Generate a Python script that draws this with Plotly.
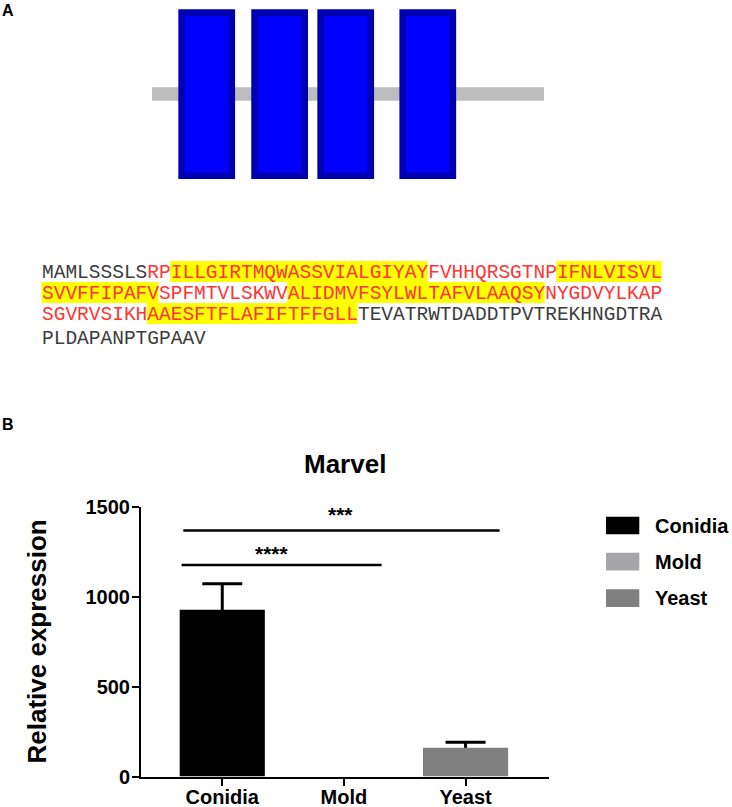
import plotly.graph_objects as go

# ---------------- data ----------------
# Panel A: protein sequence (53 residues per printed line)
seq_lines = [
    "MAMLSSSLSRPILLGIRTMQWASSVIALGIYAYFVHHQRSGTNPIFNLVISVL",
    "SVVFFIPAFVSPFMTVLSKWVALIDMVFSYLWLTAFVLAAQSYNYGDVYLKAP",
    "SGVRVSIKHAAESFTFLAFIFTFFGLLTEVATRWTDADDTPVTREKHNGDTRA",
    "PLDAPANPTGPAAV",
]
# highlighted (transmembrane) stretches in the sequence, 1-based residues
hl_start = [12, 45, 75, 116]
hl_end = [33, 63, 96, 133]
# residues printed in red (MARVEL domain)
red_start, red_end = 10, 133
# domain diagram: TM boxes (residue units)
tm_start = [14, 46, 75, 111]
tm_end = [36, 68, 97, 133]

# Panel B: bar chart
categories = ["Conidia", "Mold", "Yeast"]
means = [926, 0, 160]
err_plus = [145, None, 30]
bar_colors = ["#000000", "#a6a6a9", "#808080"]
y_ticks = [0, 500, 1000, 1500]
sig_x0 = [-0.32, -0.334]
sig_x1 = [2.28, 1.31]
sig_y = [1366, 1175]
sig_text = ["***", "****"]
sig_text_x = [0.973, 0.41]
sig_text_y = [1456, 1237]

# ---------------- layout helpers ----------------
W, H = 732, 807
def fx(p):
    return p / W
def fy(p):
    return 1 - p / H

SANS = "Liberation Sans, Arial, sans-serif"
MONO = "Liberation Mono, Courier New, monospace"
RED = "#ff3535"
DARK = "#3c3c3c"

fig = go.Figure()

# ---------------- bar chart ----------------
# error bars carried by a transparent bar trace drawn underneath, so only the
# upper half of each (symmetric) error bar is visible above the bars
err_x = [c for c, e in zip(categories, err_plus) if e is not None]
err_y = [m for m, e in zip(means, err_plus) if e is not None]
err_v = [e for e in err_plus if e is not None]
fig.add_trace(go.Bar(
    x=err_x, y=err_y, width=0.7,
    marker=dict(color="rgba(0,0,0,0)", line=dict(width=0)),
    error_y=dict(type="data", array=err_v, symmetric=True,
                 color="black", thickness=3, width=20),
    showlegend=False, hoverinfo="skip",
))
fig.add_trace(go.Bar(
    x=categories, y=means, width=0.7,
    marker=dict(color=bar_colors, line=dict(width=0)),
    showlegend=False, hoverinfo="skip",
))

axis_font = dict(family=SANS, size=20, color="black", weight="bold")
fig.update_layout(
    width=W, height=H,
    margin=dict(l=0, r=0, t=0, b=0),
    paper_bgcolor="white", plot_bgcolor="white",
    showlegend=False, barmode="overlay",
    xaxis=dict(type="category", categoryorder="array", categoryarray=categories,
               domain=[fx(141), fx(549)], range=[-0.668, 2.686], automargin=False,
               showline=True, linecolor="black", linewidth=2,
               ticks="outside", ticklen=7, tickwidth=2, tickcolor="black",
               ticklabelstandoff=-6,
               tickfont=axis_font, showgrid=False, zeroline=False, anchor="y"),
    yaxis=dict(domain=[fy(776.5), fy(506.5)], range=[0, 1500], automargin=False,
               tickvals=y_ticks, ticktext=[str(v) for v in y_ticks],
               showline=True, linecolor="black", linewidth=2,
               ticks="outside", ticklen=7, tickwidth=2, tickcolor="black",
               ticklabelstandoff=-2,
               tickfont=axis_font, showgrid=False, zeroline=False, anchor="x"),
    xaxis3=dict(domain=[fx(152), fx(544)], range=[1, sum(len(s) for s in seq_lines)],
                visible=False, anchor="y3", automargin=False),
    yaxis3=dict(domain=[fy(190), fy(0)], range=[190, 0], visible=False, anchor="x3",
                automargin=False),
)

shapes = []
annotations = []

# significance bars
for x0, x1, yv, t, tx, ty in zip(sig_x0, sig_x1, sig_y, sig_text, sig_text_x, sig_text_y):
    shapes.append(dict(type="line", xref="x", yref="y", x0=x0, x1=x1, y0=yv, y1=yv,
                       line=dict(color="black", width=2.5)))
    annotations.append(dict(xref="x", yref="y", x=tx, y=ty, text=t, showarrow=False,
                            xanchor="center", yanchor="middle",
                            font=dict(family=SANS, size=21, color="black", weight="bold")))

# custom legend
leg_centers = [525.5, 561.7, 598.2]
for cat, col, yc in zip(categories, bar_colors, leg_centers):
    shapes.append(dict(type="rect", xref="paper", yref="paper",
                       x0=fx(606), x1=fx(639.3), y0=fy(yc + 8.85), y1=fy(yc - 8.85),
                       fillcolor=col, line=dict(width=0)))
    annotations.append(dict(xref="paper", yref="paper", x=fx(654), y=fy(yc + 0.2),
                            text=cat, showarrow=False, xanchor="left", yanchor="middle",
                            borderpad=0, font=dict(family=SANS, size=20, color="black", weight="bold")))

# title and y-axis title
annotations.append(dict(xref="paper", yref="paper", x=fx(345), y=fy(463.7), text="Marvel",
                        showarrow=False, xanchor="center", yanchor="middle",
                        font=dict(family=SANS, size=26, color="black", weight="bold")))
annotations.append(dict(xref="paper", yref="paper", x=fx(36), y=fy(641.5),
                        text="Relative expression", textangle=-90,
                        showarrow=False, xanchor="center", yanchor="middle",
                        font=dict(family=SANS, size=26, color="black", weight="bold")))

# panel labels
for lab, yc in (("A", 10.5), ("B", 424.5)):
    annotations.append(dict(xref="paper", yref="paper", x=fx(1), y=fy(yc), text=lab,
                            showarrow=False, xanchor="left", yanchor="middle", borderpad=0,
                            font=dict(family=SANS, size=16, color="black", weight="bold")))

# ---------------- domain diagram ----------------
prot_len = sum(len(s) for s in seq_lines)
shapes.append(dict(type="rect", xref="x3", yref="y3", x0=1, x1=prot_len, y0=87.3, y1=100.7,
                   fillcolor="#bdbdbd", line=dict(width=0), layer="below"))
for s, e in zip(tm_start, tm_end):
    shapes.append(dict(type="rect", xref="x3", yref="y3", x0=s, x1=e, y0=12.6, y1=175.7,
                       fillcolor="#0000ff", line=dict(color="#0000b0", width=6.6)))

# ---------------- sequence ----------------
FS = 19.5
CW = 0.6 * FS
X0 = 41.5
baselines = [278, 299, 320, 344]
line_len = len(seq_lines[0])

# highlight boxes
for s, e in zip(hl_start, hl_end):
    for li, base in enumerate(baselines):
        ls = li * line_len + 1
        le = li * line_len + len(seq_lines[li])
        a, b = max(s, ls), min(e, le)
        if a <= b:
            c0 = a - ls
            c1 = b - ls + 1
            shapes.append(dict(type="rect", xref="paper", yref="paper",
                               x0=fx(X0 + c0 * CW), x1=fx(X0 + c1 * CW),
                               y0=fy(base + 4), y1=fy(base - 17),
                               fillcolor="#ffff00", line=dict(width=0), layer="below"))

# colored text
for li, (txt, base) in enumerate(zip(seq_lines, baselines)):
    parts = []
    cur_col, buf = None, ""
    for ci, ch in enumerate(txt):
        r = li * line_len + ci + 1
        col = RED if red_start <= r <= red_end else DARK
        if col != cur_col and buf:
            parts.append(f'<span style="color:{cur_col}">{buf}</span>')
            buf = ""
        cur_col = col
        buf += ch
    if buf:
        parts.append(f'<span style="color:{cur_col}">{buf}</span>')
    annotations.append(dict(xref="paper", yref="paper", x=fx(X0), y=fy(base - 0.2665 * FS),
                            text="".join(parts), showarrow=False, xanchor="left",
                            yanchor="middle", borderpad=0, borderwidth=0,
                            font=dict(family=MONO, size=FS, color=DARK)))

fig.update_layout(shapes=shapes, annotations=annotations)
fig.write_html("out.html", config={"displayModeBar": False},
               post_script="document.body.style.margin='0';document.body.style.overflow='hidden';")
